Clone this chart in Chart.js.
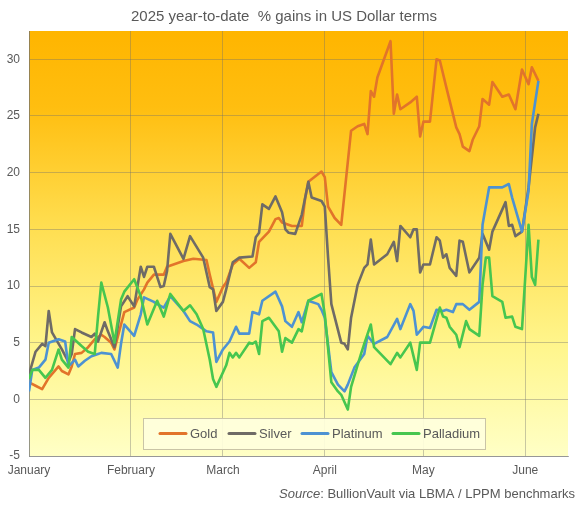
<!DOCTYPE html>
<html>
<head>
<meta charset="utf-8">
<script src="https://cdn.jsdelivr.net/npm/chart.js@4.4.1/dist/chart.umd.min.js"></script>
<style>
  html, body { margin: 0; padding: 0; background: #fff; }
  #wrap { width: 580px; height: 505px; }
</style>
</head>
<body>
<div id="wrap"><canvas id="chart" width="580" height="505"></canvas></div>
<script>
// x values are day-of-year in 2025
const monthStarts = [1, 32, 60, 91, 121, 152];
const monthLabels = ['January', 'February', 'March', 'April', 'May', 'June'];
const yTicks = [-5, 0, 5, 10, 15, 20, 25, 30];

const seriesNames = ['Gold', 'Silver', 'Platinum', 'Palladium'];
const seriesColors = ['#E2742A', '#6F6B66', '#4D92D2', '#47C64F'];

const goldDays = [1,3,5,7,10,11,13,14,15,17,19,21,23,24,26,27,29,30,33,34,36,37,39,42,43,48,51,55,56,58,60,61,63,65,68,70,71,74,76,77,78,81,84,85,86,90,91,92,94,96,99,101,103,104,105,106,107,111,112,113,114,117,119,120,121,123,125,126,128,131,132,133,135,136,138,139,141,142,145,147,149,151,153,154,156];
const gold = [1.5,1.2,0.9,1.9,2.9,2.5,2.2,2.9,4.0,4.1,4.6,5.3,5.7,5.5,5.0,4.4,6.6,7.7,8.1,8.8,9.7,10.3,11.0,11.0,11.7,12.2,12.4,12.3,11.0,8.6,9.9,10.3,11.9,12.4,11.6,12.1,13.9,14.8,15.9,16.0,15.6,15.3,15.3,17.7,19.2,20.1,19.6,17.0,16.0,15.4,23.7,24.1,24.3,23.4,27.2,26.7,28.4,31.6,25.2,26.9,25.6,26.2,26.7,23.2,24.5,24.5,30.0,29.9,27.5,24.0,23.4,22.3,21.9,22.9,24.1,26.5,26.0,28.0,26.7,26.9,25.6,29.1,27.8,29.3,28.1];

const silverDays = [1,3,5,6,7,8,11,13,14,15,17,20,21,22,24,25,27,29,31,33,35,36,37,39,41,42,43,44,48,50,54,56,57,58,60,61,63,65,69,70,71,72,74,76,78,79,80,82,84,86,87,90,91,92,93,96,97,98,99,101,103,104,105,106,110,112,113,114,117,118,119,120,121,123,125,126,127,128,129,131,132,133,135,138,139,141,142,146,147,148,149,151,153,155,156];
const silver = [2.2,4.2,4.9,4.7,7.8,5.9,4.4,3.3,4.0,6.2,5.9,5.5,5.8,5.1,6.8,6.0,4.6,8.2,9.1,8.2,11.7,10.8,11.7,11.7,9.9,10.0,11.3,14.6,12.4,14.4,12.5,9.9,9.7,7.8,8.6,9.7,12.1,12.5,12.6,14.3,14.7,17.2,16.8,17.9,16.5,15.0,14.7,14.6,16.3,19.2,17.8,17.5,17.0,12.5,8.4,5.0,4.9,4.4,7.2,10.1,11.6,11.9,14.1,11.9,12.8,13.9,12.2,15.3,14.3,15.0,15.0,11.2,11.9,11.9,14.3,14.0,12.5,12.8,11.6,10.9,14.0,13.9,11.2,12.5,14.6,13.2,14.8,17.4,15.3,15.4,14.4,14.8,18.7,24.0,25.2];

const platDays = [1,2,4,6,7,10,12,13,15,16,18,20,22,23,26,28,29,30,33,35,36,39,40,42,44,48,50,52,55,57,58,60,62,64,65,68,69,71,72,76,78,79,81,83,84,86,89,90,91,93,95,97,98,100,103,104,106,110,113,114,117,118,119,121,123,125,127,128,130,131,133,135,138,139,141,145,147,148,151,153,154,156];
const plat = [0.7,2.6,2.8,3.5,5.0,5.3,5.1,2.9,3.5,2.9,3.4,3.8,4.0,4.1,4.0,2.8,4.9,6.6,5.6,7.5,9.0,8.6,8.4,8.1,9.1,7.8,6.9,6.6,6.0,5.9,3.3,4.4,5.1,6.4,5.8,5.8,7.7,7.5,8.7,9.5,8.2,6.9,6.4,7.7,6.8,8.7,8.4,7.9,7.2,2.4,1.3,0.7,1.3,2.8,4.0,5.6,4.9,5.5,7.1,6.2,8.4,7.8,5.7,6.4,6.3,7.9,7.8,7.9,7.7,8.4,8.4,7.9,8.6,15.4,18.7,18.7,19.0,17.8,14.8,18.4,24.3,28.1];

const pallDays = [1,2,4,6,8,10,11,13,14,17,19,21,22,23,25,27,29,30,33,35,37,40,42,44,48,50,52,54,56,57,58,61,62,63,64,65,68,69,70,71,72,74,77,78,79,81,83,84,86,90,91,93,95,96,98,99,102,103,105,106,111,113,114,117,119,120,123,126,127,128,129,131,132,134,135,138,139,140,141,142,145,146,148,149,151,153,154,155,156];
const pall = [1.8,2.6,2.6,1.9,2.6,4.4,3.5,2.8,5.5,4.7,4.2,4.0,7.3,10.3,8.1,5.0,8.8,9.5,10.6,9.1,6.6,8.7,7.3,9.3,7.8,8.3,7.5,6.2,3.5,1.8,1.1,3.0,4.1,3.7,4.1,3.7,5.0,4.9,5.1,4.0,6.9,7.2,6.0,4.2,5.4,5.0,6.2,6.0,8.7,9.3,7.5,1.5,0.7,0.4,-0.9,1.1,4.0,4.9,6.6,4.6,3.1,4.1,3.7,5.0,2.6,5.0,5.0,8.1,7.3,7.2,6.4,5.7,4.6,6.9,6.2,5.6,10.1,12.5,12.5,9.1,8.6,7.2,7.3,6.4,6.2,15.4,10.8,10.1,14.1];

const FONT = '"Liberation Sans", Arial, sans-serif';
const TEXT = '#595959';

function pairs(days, vals) {
  return days.map((d, i) => ({ x: d, y: vals[i] }));
}

const allDays = [goldDays, silverDays, platDays, pallDays];
const allVals = [gold, silver, plat, pall];

const datasets = seriesNames.map((name, i) => ({
  label: name,
  data: pairs(allDays[i], allVals[i]),
  borderColor: seriesColors[i],
  backgroundColor: seriesColors[i],
  borderWidth: 2.6,
  borderJoinStyle: 'round',
  pointRadius: 0,
  tension: 0,
  fill: false,
  order: 4 - i
}));

// yellow-orange gradient behind the plot
const plotBackground = {
  id: 'plotBackground',
  beforeDraw(chart) {
    const { ctx, chartArea: a } = chart;
    const g = ctx.createLinearGradient(0, a.top, 0, a.bottom);
    g.addColorStop(0, '#FFB500');
    g.addColorStop(0.18, '#FFBE10');
    g.addColorStop(0.45, '#FFDD4E');
    g.addColorStop(0.75, '#FFF68E');
    g.addColorStop(1, '#FFFFC6');
    ctx.save();
    ctx.fillStyle = g;
    ctx.fillRect(a.left, a.top, a.right - a.left, a.bottom - a.top);
    ctx.restore();
  }
};

// legend box sitting inside the plot, bottom centre
const insideLegend = {
  id: 'insideLegend',
  afterDatasetsDraw(chart) {
    const ctx = chart.ctx;
    const box = { x: 143, y: 418, w: 342, h: 31 };
    const lineX = [160, 229, 302, 393];
    const cy = box.y + box.h / 2;
    ctx.save();
    ctx.fillStyle = 'rgba(255,255,222,0.9)';
    ctx.strokeStyle = '#C9C4A6';
    ctx.lineWidth = 1;
    ctx.fillRect(box.x, box.y, box.w, box.h);
    ctx.strokeRect(box.x + 0.5, box.y + 0.5, box.w, box.h);
    ctx.font = '13px ' + FONT;
    ctx.textBaseline = 'middle';
    ctx.lineCap = 'round';
    chart.data.datasets.forEach((ds, i) => {
      ctx.strokeStyle = ds.borderColor;
      ctx.lineWidth = 3;
      ctx.beginPath();
      ctx.moveTo(lineX[i], cy);
      ctx.lineTo(lineX[i] + 26, cy);
      ctx.stroke();
      ctx.fillStyle = TEXT;
      ctx.fillText(ds.label, lineX[i] + 30, cy + 1);
    });
    ctx.restore();
  }
};

const sourceNote = {
  id: 'sourceNote',
  afterDraw(chart) {
    const ctx = chart.ctx;
    const rest = ': BullionVault via LBMA / LPPM benchmarks';
    ctx.save();
    ctx.fillStyle = TEXT;
    ctx.textBaseline = 'middle';
    ctx.font = '13px ' + FONT;
    const wRest = ctx.measureText(rest).width;
    const right = 575;
    ctx.textAlign = 'right';
    ctx.fillText(rest, right, 494);
    ctx.font = 'italic 13px ' + FONT;
    ctx.fillText('Source', right - wRest, 494);
    ctx.restore();
  }
};

new Chart(document.getElementById('chart'), {
  type: 'line',
  data: { datasets: datasets },
  options: {
    responsive: false,
    animation: false,
    layout: { padding: { left: 0, right: 12, top: 0, bottom: 0 } },
    plugins: {
      legend: { display: false },
      tooltip: { enabled: false },
      title: {
        display: true,
        text: '2025 year-to-date  % gains in US Dollar terms',
        color: TEXT,
        font: { family: FONT, size: 15, weight: 'normal' },
        padding: { top: 8, bottom: 5 }
      }
    },
    scales: {
      x: {
        type: 'linear',
        min: 1,
        max: 165,
        afterBuildTicks(scale) {
          scale.ticks = monthStarts.map(v => ({ value: v }));
        },
        afterFit(scale) { scale.height = 49; },
        grid: { color: 'rgba(110,110,110,0.38)', drawTicks: false },
        border: { display: true, color: 'rgba(110,110,110,0.55)' },
        ticks: {
          color: TEXT,
          font: { family: FONT, size: 12 },
          padding: 7,
          maxRotation: 0,
          autoSkip: false,
          callback(value) {
            const i = monthStarts.indexOf(value);
            return i >= 0 ? monthLabels[i] : '';
          }
        }
      },
      y: {
        min: -5,
        max: 32.5,
        afterBuildTicks(scale) {
          scale.ticks = yTicks.map(v => ({ value: v }));
        },
        afterFit(scale) { scale.width = 29; },
        grid: { color: 'rgba(110,110,110,0.38)', drawTicks: false },
        border: { display: true, color: 'rgba(110,110,110,0.55)' },
        ticks: {
          color: TEXT,
          font: { family: FONT, size: 12 },
          padding: 9
        }
      }
    }
  },
  plugins: [plotBackground, insideLegend, sourceNote]
});
</script>
</body>
</html>
